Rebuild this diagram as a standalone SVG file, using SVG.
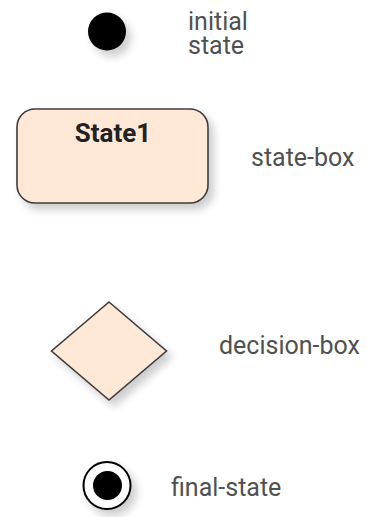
<svg xmlns="http://www.w3.org/2000/svg" width="367" height="517" viewBox="0 0 367 517">
  <style>
    .label { font-family: Roboto, "Liberation Sans", sans-serif; font-size: 25px; fill: #505050; }
    .title { font-family: Roboto, "Liberation Sans", sans-serif; font-size: 26px; font-weight: bold; fill: #222222; }
    .shape { fill: #ffe8d6; stroke: #3c3c3c; stroke-width: 1.6; }
  </style>
  <defs>
    <filter id="shadow" x="-30%" y="-30%" width="170%" height="170%">
      <feGaussianBlur in="SourceAlpha" stdDeviation="4"/>
      <feOffset dx="5" dy="6" result="blur"/>
      <feComponentTransfer>
        <feFuncA type="linear" slope="0.2"/>
      </feComponentTransfer>
      <feMerge>
        <feMergeNode/>
        <feMergeNode in="SourceGraphic"/>
      </feMerge>
    </filter>
  </defs>

  <g id="initial-state">
    <circle cx="107" cy="31.5" r="19" fill="#000000" filter="url(#shadow)"/>
    <text class="label" x="188" y="30"><tspan x="188">initial</tspan><tspan x="188" dy="24">state</tspan></text>
  </g>

  <g id="state-box">
    <rect class="shape" x="17" y="109" width="191" height="94" rx="18" ry="18" filter="url(#shadow)"/>
    <text class="title" x="113" y="142" text-anchor="middle">State1</text>
    <text class="label" x="251" y="166">state-box</text>
  </g>

  <g id="decision-box">
    <polygon class="shape" points="109,302 166.5,351 109,400 51.5,351" filter="url(#shadow)"/>
    <text class="label" x="219" y="354">decision-box</text>
  </g>

  <g id="final-state">
    <g filter="url(#shadow)">
      <circle cx="107" cy="485.5" r="23.5" fill="#ffffff" stroke="#000000" stroke-width="2"/>
      <circle cx="107.5" cy="485.5" r="14.5" fill="#000000"/>
    </g>
    <text class="label" x="171" y="496">final-state</text>
  </g>

  <g id="connectors"/>
</svg>
